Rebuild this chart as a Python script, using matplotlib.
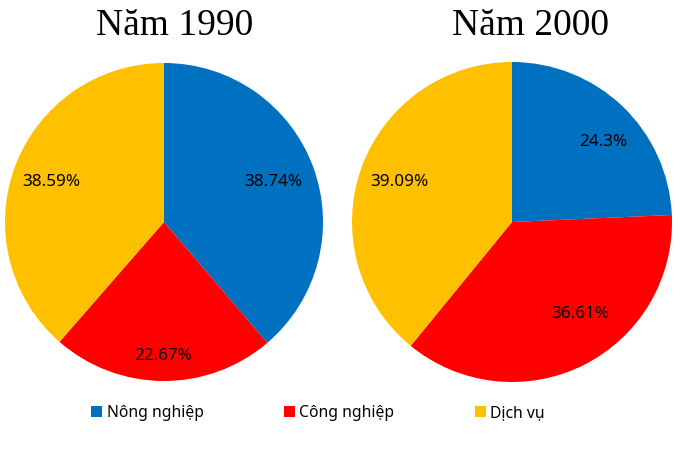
import matplotlib
matplotlib.use("Agg")
import matplotlib.pyplot as plt
from matplotlib.patches import Patch
import numpy as np

categories = ["Nông nghiệp", "Công nghiệp", "Dịch vụ"]
years = ["Năm 1990", "Năm 2000"]
values_1990 = [38.74, 22.67, 38.59]
values_2000 = [24.3, 36.61, 39.09]
labels_1990 = ["38.74%", "22.67%", "38.59%"]
labels_2000 = ["24.3%", "36.61%", "39.09%"]

colors = ["#0070C0", "#FF0000", "#FFC000"]

# label placement (radial distance, angle shift in degrees), like excel's best fit
place_1990 = [(0.73, 0), (0.84, 0), (0.75, 1)]
place_2000 = [(0.76, -5), (0.72, 10), (0.75, 0)]

W, H = 681, 454
fig = plt.figure(figsize=(W / 100, H / 100), dpi=100)

def pie_axes(cx, cy, r):
    return fig.add_axes([(cx - r) / W, (H - cy - r) / H, 2 * r / W, 2 * r / H])

for (cx, cy, r, tx), vals, labs, place, title in [
    ((164, 222, 159, 175), values_1990, labels_1990, place_1990, years[0]),
    ((512, 222, 160, 530), values_2000, labels_2000, place_2000, years[1]),
]:
    ax = pie_axes(cx, cy, r)
    ax.pie(vals, colors=colors, startangle=90, counterclock=False,
           radius=1.0, wedgeprops=dict(linewidth=0))
    tot = sum(vals)
    start = 90.0
    for v, lab, (d, shift) in zip(vals, labs, place):
        mid = start - v / tot * 360 / 2 + shift
        start -= v / tot * 360
        ax.text(d * np.cos(np.radians(mid)), d * np.sin(np.radians(mid)), lab,
                ha="center", va="center", fontsize=12.3, family="Noto Sans",
                color="#000000")
    ax.set_xlim(-1, 1)
    ax.set_ylim(-1, 1)
    ax.set_aspect("equal")
    ax.axis("off")
    fig.text(tx / W, 1 - 35 / H, title, ha="center", va="baseline",
             fontsize=27, family="Liberation Serif")

handles = [Patch(facecolor=c, edgecolor="none") for c in colors]
fig.legend(handles, categories, loc="center", bbox_to_anchor=(318 / W, 1 - 413 / H),
           ncol=3, frameon=False, prop={"family": "Noto Sans", "size": 11.3},
           handlelength=0.7, handleheight=0.7, handletextpad=0.3, columnspacing=5.1)

fig.savefig("out.png", dpi=100)
